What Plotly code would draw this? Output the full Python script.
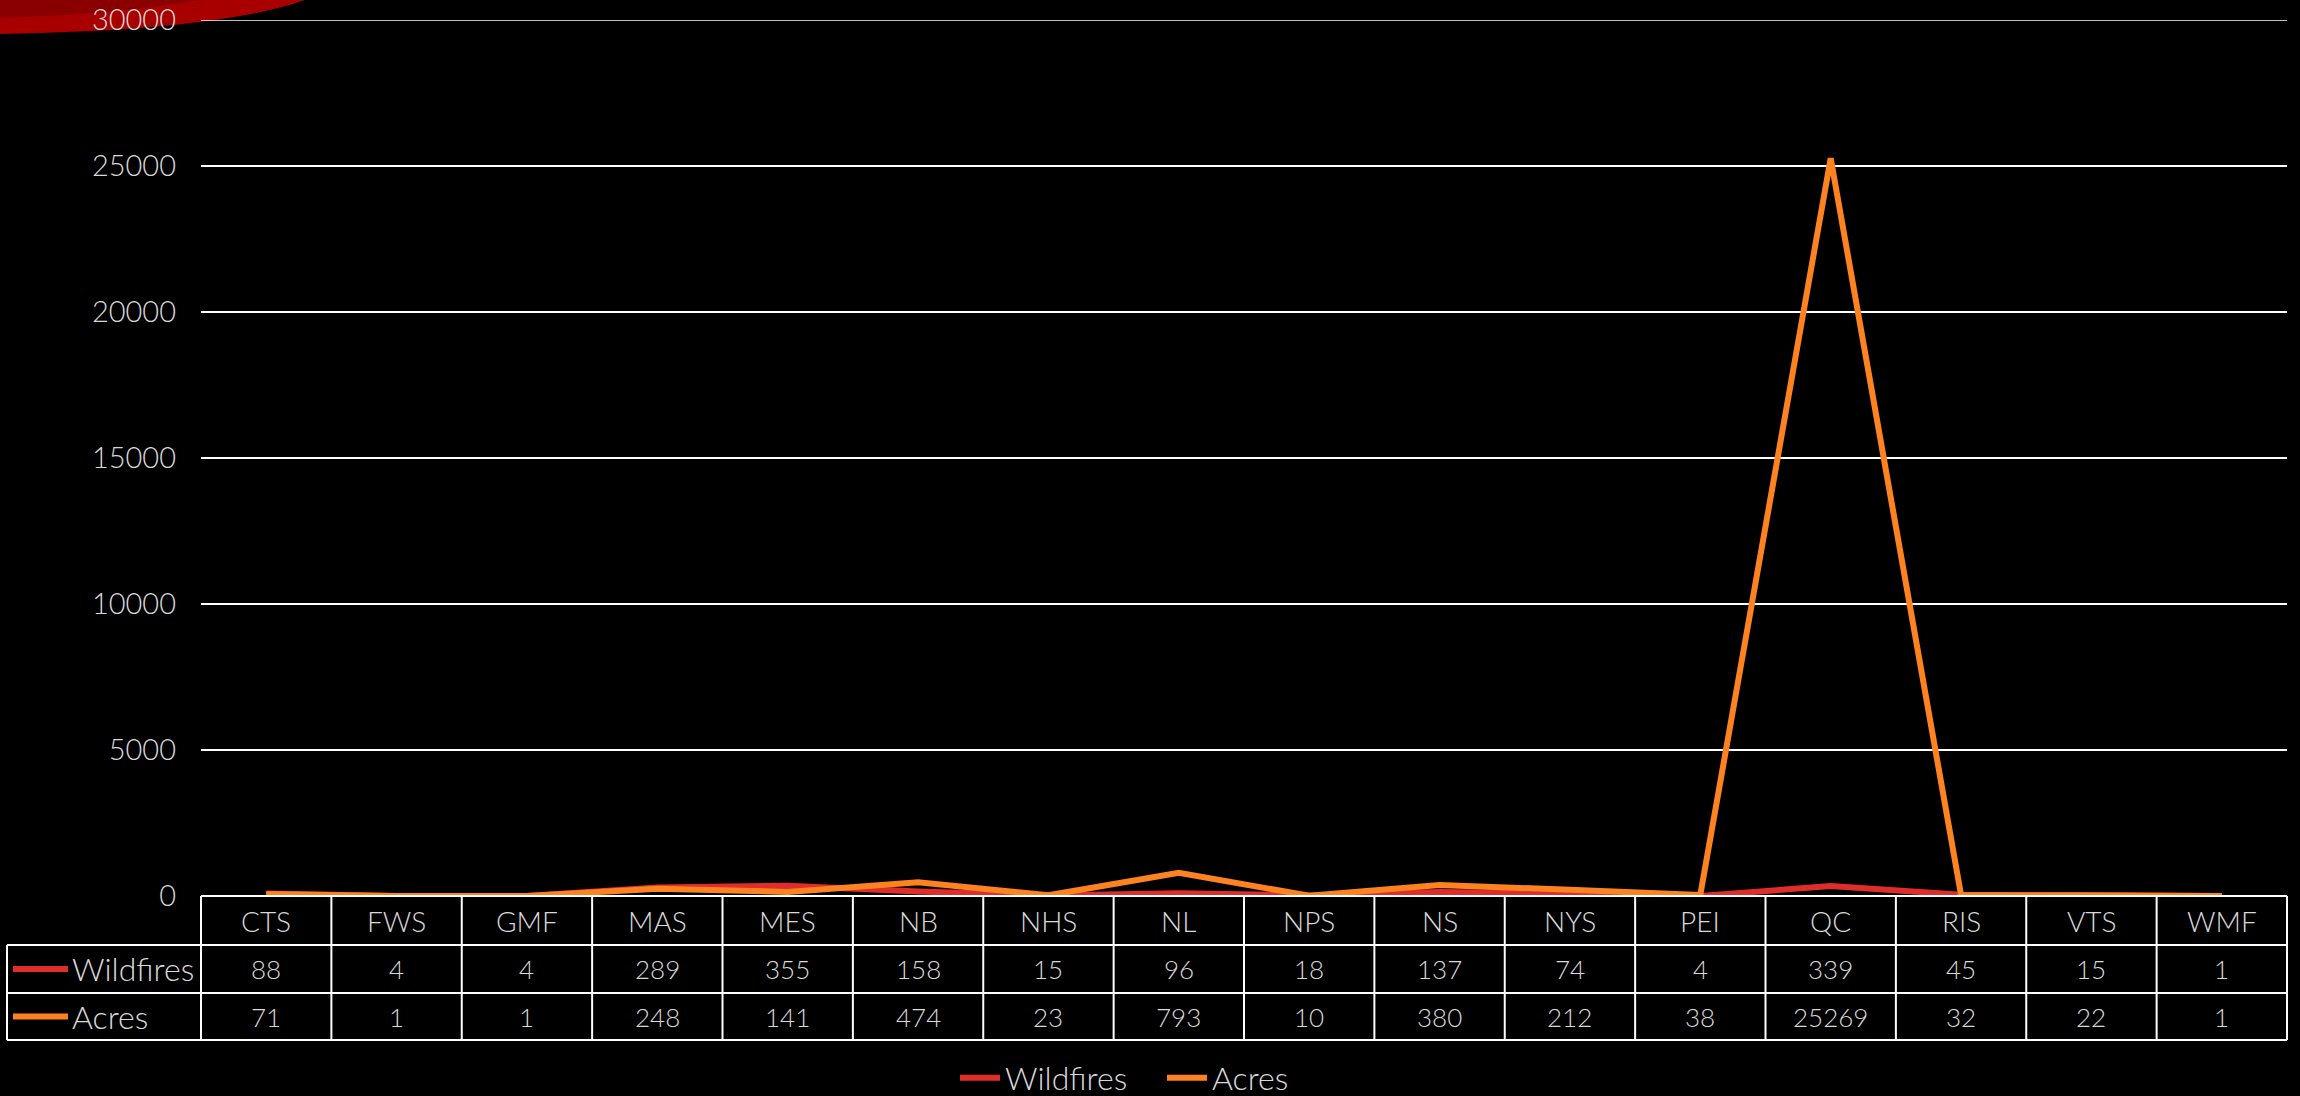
import plotly.graph_objects as go

# ---------------- data ----------------
categories = ["CTS", "FWS", "GMF", "MAS", "MES", "NB", "NHS", "NL", "NPS", "NS",
              "NYS", "PEI", "QC", "RIS", "VTS", "WMF"]
wildfires = [88, 4, 4, 289, 355, 158, 15, 96, 18, 137, 74, 4, 339, 45, 15, 1]
acres = [71, 1, 1, 248, 141, 474, 23, 793, 10, 380, 212, 38, 25269, 32, 22, 1]
series_names = ["Wildfires", "Acres"]
y_ticks = [0, 5000, 10000, 15000, 20000, 25000, 30000]

# ---------------- style ----------------
W, H = 2300, 1096
L, R, T, B = 201, 13, 20, 200
PLOT_W = W - L - R
PLOT_H = H - T - B
FONT = "Lato"
WEIGHT = 300
TXT = "#D9D9D9"
COLORS = {"Wildfires": "#DE2D2A", "Acres": "#FD8220"}
LW = 6


def py(px):
    """pixel row (from top) -> paper y"""
    return (H - B - px) / PLOT_H


def pxp(px):
    """pixel column (from left) -> paper x"""
    return (px - L) / PLOT_W


fig = go.Figure()
values = {"Wildfires": wildfires, "Acres": acres}
for name in series_names:
    fig.add_trace(go.Scatter(
        x=categories, y=values[name], name=name, mode="lines",
        line=dict(color=COLORS[name], width=LW),
    ))

shapes = []
annotations = []

# red swoosh decoration top-left
shapes.append(dict(
    type="path", xref="paper", yref="paper", layer="below",
    path=f"M {pxp(0)} {py(0)} L {pxp(305)} {py(0)} "
         f"Q {pxp(220)} {py(30)} {pxp(0)} {py(34)} Z",
    fillcolor="#A80000", line=dict(width=0),
))
shapes.append(dict(
    type="path", xref="paper", yref="paper", layer="below",
    path=f"M {pxp(0)} {py(0)} L {pxp(200)} {py(0)} "
         f"Q {pxp(120)} {py(14)} {pxp(0)} {py(18)} Z",
    fillcolor="#8A0000", line=dict(width=0),
))

# top gridline (range edge)
shapes.append(dict(type="line", xref="paper", yref="y", x0=0, x1=1,
                   y0=y_ticks[-1], y1=y_ticks[-1], line=dict(color="white", width=1.5)))

# table geometry (pixel rows)
row_edges = [896, 945, 993, 1040]
TABLE_LEFT = 7
LINE = dict(color="white", width=2)

# horizontal lines
shapes.append(dict(type="line", xref="paper", yref="paper",
                   x0=0, x1=1, y0=py(row_edges[0]), y1=py(row_edges[0]), line=LINE))
for e in row_edges[1:]:
    shapes.append(dict(type="line", xref="paper", yref="paper",
                       x0=pxp(TABLE_LEFT), x1=1, y0=py(e), y1=py(e), line=LINE))
# vertical lines between categories
for i in range(1, len(categories)):
    shapes.append(dict(type="line", xref="x", yref="paper",
                       x0=i - 0.5, x1=i - 0.5, y0=py(row_edges[0]), y1=py(row_edges[-1]),
                       line=LINE))
for xp in (0, 1):
    shapes.append(dict(type="line", xref="paper", yref="paper",
                       x0=xp, x1=xp, y0=py(row_edges[0]), y1=py(row_edges[-1]), line=LINE))
shapes.append(dict(type="line", xref="paper", yref="paper",
                   x0=pxp(TABLE_LEFT), x1=pxp(TABLE_LEFT),
                   y0=py(row_edges[1]), y1=py(row_edges[-1]), line=LINE))

HFONT = dict(family=FONT, size=28, color=TXT, weight=WEIGHT)
NFONT = dict(family=FONT, size=26, color=TXT, weight=WEIGHT)
# header row
hc = (row_edges[0] + row_edges[1]) / 2
for c in categories:
    annotations.append(dict(x=c, y=py(hc), xref="x", yref="paper", text=c,
                            showarrow=False, font=HFONT, xanchor="center", yanchor="middle"))
# data rows
for r, name in enumerate(series_names):
    rc = (row_edges[r + 1] + row_edges[r + 2]) / 2
    for c, v in zip(categories, values[name]):
        annotations.append(dict(x=c, y=py(rc), xref="x", yref="paper", text=str(v),
                                showarrow=False, font=NFONT, xanchor="center",
                                yanchor="middle"))
    shapes.append(dict(type="line", xref="paper", yref="paper",
                       x0=pxp(13), x1=pxp(68), y0=py(rc), y1=py(rc),
                       line=dict(color=COLORS[name], width=LW)))
    annotations.append(dict(x=pxp(70), y=py(rc), xref="paper", yref="paper",
                            text=name, showarrow=False,
                            font=dict(family=FONT, size=32, color=TXT, weight=WEIGHT),
                            xanchor="left", yanchor="middle"))

fig.update_layout(
    width=W, height=H,
    margin=dict(l=L, r=R, t=T, b=B, autoexpand=False),
    paper_bgcolor="black", plot_bgcolor="black",
    font=dict(family=FONT, color=TXT, size=30, weight=WEIGHT),
    showlegend=True,
    legend=dict(orientation="h", xref="container", yref="container",
                x=955 / W, xanchor="left", y=(H - 1078) / H, yanchor="middle",
                font=dict(family=FONT, size=32, color=TXT, weight=WEIGHT),
                bgcolor="rgba(0,0,0,0)", entrywidth=152, itemwidth=40),
    xaxis=dict(type="category", range=[-0.5, len(categories) - 0.5],
               showgrid=False, showticklabels=False, zeroline=False,
               showline=False, ticks="", automargin=False),
    yaxis=dict(range=[0, 30000], tickvals=y_ticks, ticktext=[str(t) for t in y_ticks],
               showgrid=True, gridcolor="white", gridwidth=1.5,
               zeroline=False, showline=False, ticks="", automargin=False,
               ticklabelstandoff=24, ticklabeloverflow="allow",
               tickfont=dict(family=FONT, size=29, color=TXT, weight=WEIGHT)),
    shapes=shapes,
    annotations=annotations,
)

fig.write_html(
    "out.html",
    config={"displayModeBar": False},
    post_script="document.body.style.margin='0';document.body.style.overflow='hidden';",
)
